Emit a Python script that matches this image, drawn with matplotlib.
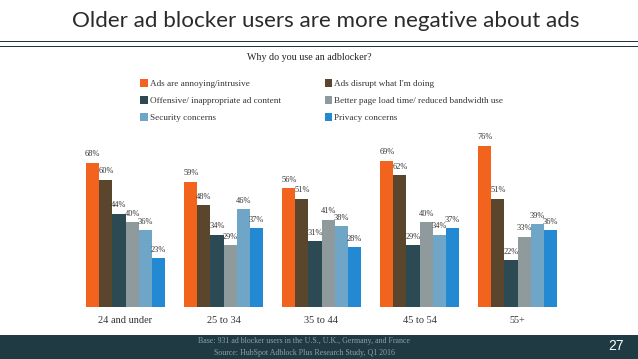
import matplotlib
matplotlib.use("Agg")
import matplotlib.pyplot as plt
from matplotlib.patches import Rectangle
import numpy as np

W, H = 638, 359
age_groups = ["24 and under", "25 to 34", "35 to 44", "45 to 54", "55+"]
annoying = [68, 59, 56, 69, 76]
disrupt = [60, 48, 51, 62, 51]
offensive = [44, 34, 31, 29, 22]
load_time = [40, 29, 41, 40, 33]
security = [36, 46, 38, 34, 39]
privacy = [23, 37, 28, 37, 36]
series_names = ["Ads are annoying/intrusive", "Ads disrupt what I'm doing",
                "Offensive/ inappropriate ad content", "Better page load time/ reduced bandwidth use",
                "Security concerns", "Privacy concerns"]
series_values = [annoying, disrupt, offensive, load_time, security, privacy]
colors = ["#F2641E", "#59462D", "#2B4A54", "#8F9A9C", "#6FA5C6", "#2289D2"]
title = "Older ad blocker users are more negative about ads"
subtitle = "Why do you use an adblocker?"
footer1 = "Base: 931 ad blocker users in the U.S., U.K., Germany, and France"
footer2 = "Source: HubSpot Adblock Plus Research Study, Q1 2016"
page = "27"

SERIF = "Liberation Serif"
fig = plt.figure(figsize=(W/100, H/100), dpi=100, facecolor="white")
ax = fig.add_axes([76.5/W, (H-306.7)/H, 490/W, 169.4/H])
x = np.arange(len(age_groups))
bw = 13.1/98
handles = []
for i, (name, vals, c) in enumerate(zip(series_names, series_values, colors)):
    pos = x + (i-2.5)*bw
    b = ax.bar(pos, vals, bw, color=c, label=name)
    handles.append(b)
    for p, v in zip(pos, vals):
        ax.text(p, v+2.1, f"{v}%", ha="center", va="bottom", fontsize=6.0, family=SERIF, color="#333333")
ax.set_xlim(-0.5, 4.5)
ax.set_ylim(0, 80)
ax.set_yticks([])
ax.set_xticks(x, age_groups, fontsize=7.4, family=SERIF, color="#333333")
ax.tick_params(axis="x", length=0, pad=6.5)
for s in ax.spines.values():
    s.set_visible(False)
ax.patch.set_alpha(0)

# page furniture
fig.add_artist(Rectangle((0, 0), 1, 24/H, transform=fig.transFigure, color="#1F3A43", lw=0))
fig.add_artist(Rectangle((0, (H-42)/H), 1, 1.2/H, transform=fig.transFigure, color="#1F3843", lw=0))
fig.add_artist(Rectangle((0, (H-47)/H), 1, 1.2/H, transform=fig.transFigure, color="#1F3843", lw=0))
fig.text(326/W, (H-21)/H, title, ha="center", va="center", fontsize=16.1, family="Lato", color="#2B2B2B")
fig.text(309/W, (H-57)/H, subtitle, ha="center", va="center", fontsize=7.2, family=SERIF, color="#222222")
fig.text(304/W, (H-341)/H, footer1, ha="center", va="center", fontsize=5.7, family=SERIF, color="#8FA0A6")
fig.text(304/W, (H-353)/H, footer2, ha="center", va="center", fontsize=5.7, family=SERIF, color="#8FA0A6")
fig.text(616/W, (H-346)/H, page, ha="center", va="center", fontsize=10, family="Liberation Sans", color="white")

order = [0, 2, 4, 1, 3, 5]
leg = fig.legend([handles[i] for i in order], [series_names[i] for i in order], ncols=2,
                 loc="upper left", bbox_to_anchor=(138.5/W, (H-77)/H), frameon=False,
                 prop={"family": SERIF, "size": 6.6}, handlelength=0.85, handleheight=1.05,
                 handletextpad=0.2, labelspacing=0.83, columnspacing=4.75, labelcolor="#333333",
                 borderpad=0.2, borderaxespad=0)
fig.savefig("out.png", dpi=100)
